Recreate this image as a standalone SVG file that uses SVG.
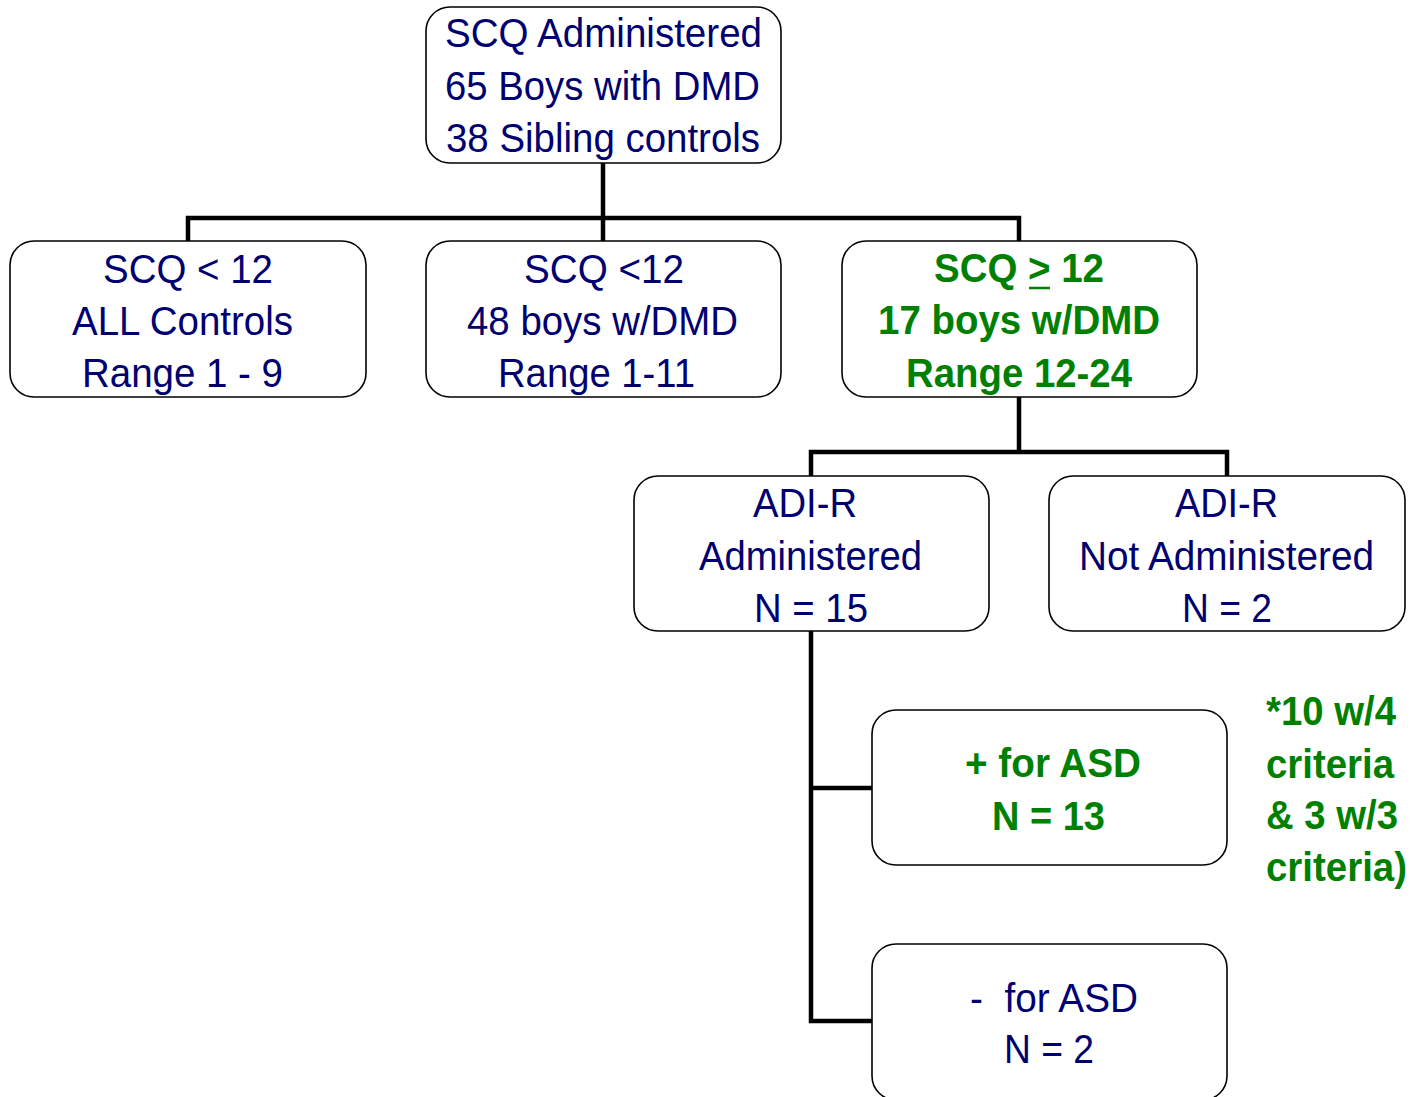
<svg xmlns="http://www.w3.org/2000/svg" width="1414" height="1097" viewBox="0 0 1414 1097">
<style>
.box{fill:#fff;stroke:#000;stroke-width:1.6}
.t{font-family:"Liberation Sans",Arial,sans-serif;font-size:40px;fill:#000070}
.g{font-family:"Liberation Sans",Arial,sans-serif;font-size:40px;font-weight:bold;fill:#008000}
.c{fill:none;stroke:#000;stroke-width:4.5}
</style>
<rect width="1414" height="1097" fill="#fff"/>
<g id="connectors">
<polyline class="c" points="603,163 603,241"/>
<polyline class="c" points="188,241 188,218 1019,218 1019,241"/>
<polyline class="c" points="1019,397 1019,452"/>
<polyline class="c" points="811,476 811,452 1227,452 1227,476"/>
<polyline class="c" points="811,631 811,1021 872,1021"/>
<polyline class="c" points="811,788 872,788"/>
</g>
<g id="n-top">
<rect class="box" x="426" y="7" width="355" height="156" rx="24"/>
<text class="t" x="445" y="47" textLength="317" lengthAdjust="spacingAndGlyphs">SCQ Administered</text>
<text class="t" x="445" y="100" textLength="315" lengthAdjust="spacingAndGlyphs">65 Boys with DMD</text>
<text class="t" x="446" y="152" textLength="314" lengthAdjust="spacingAndGlyphs">38 Sibling controls</text>
</g>
<g id="n-controls">
<rect class="box" x="10" y="241" width="356" height="156" rx="24"/>
<text class="t" x="103" y="283" textLength="170" lengthAdjust="spacingAndGlyphs">SCQ &lt; 12</text>
<text class="t" x="72" y="335" textLength="221" lengthAdjust="spacingAndGlyphs">ALL Controls</text>
<text class="t" x="82" y="387" textLength="201" lengthAdjust="spacingAndGlyphs">Range 1 - 9</text>
</g>
<g id="n-dmd-low">
<rect class="box" x="426" y="241" width="355" height="156" rx="24"/>
<text class="t" x="524" y="283" textLength="160" lengthAdjust="spacingAndGlyphs">SCQ &lt;12</text>
<text class="t" x="467" y="335" textLength="271" lengthAdjust="spacingAndGlyphs">48 boys w/DMD</text>
<text class="t" x="498" y="387" textLength="197" lengthAdjust="spacingAndGlyphs">Range 1-11</text>
</g>
<g id="n-dmd-high">
<rect class="box" x="842" y="241" width="355" height="156" rx="24"/>
<text class="g" x="934" y="282" textLength="170" lengthAdjust="spacingAndGlyphs">SCQ &gt; 12</text>
<line x1="1029" y1="288" x2="1050" y2="288" stroke="#008000" stroke-width="2.5"/>
<text class="g" x="878" y="334" textLength="282" lengthAdjust="spacingAndGlyphs">17 boys w/DMD</text>
<text class="g" x="906" y="387" textLength="226" lengthAdjust="spacingAndGlyphs">Range 12-24</text>
</g>
<g id="n-adir-yes">
<rect class="box" x="634" y="476" width="355" height="155" rx="24"/>
<text class="t" x="753" y="517" textLength="104" lengthAdjust="spacingAndGlyphs">ADI-R</text>
<text class="t" x="699" y="570" textLength="223" lengthAdjust="spacingAndGlyphs">Administered</text>
<text class="t" x="754" y="622" textLength="114" lengthAdjust="spacingAndGlyphs">N = 15</text>
</g>
<g id="n-adir-no">
<rect class="box" x="1049" y="476" width="356" height="155" rx="24"/>
<text class="t" x="1175" y="517" textLength="103" lengthAdjust="spacingAndGlyphs">ADI-R</text>
<text class="t" x="1079" y="570" textLength="295" lengthAdjust="spacingAndGlyphs">Not Administered</text>
<text class="t" x="1182" y="622" textLength="90" lengthAdjust="spacingAndGlyphs">N = 2</text>
</g>
<g id="n-asd-pos">
<rect class="box" x="872" y="710" width="355" height="155" rx="24"/>
<text class="g" x="965" y="777" textLength="176" lengthAdjust="spacingAndGlyphs">+ for ASD</text>
<text class="g" x="992" y="830" textLength="113" lengthAdjust="spacingAndGlyphs">N = 13</text>
</g>
<g id="n-asd-neg">
<rect class="box" x="872" y="944" width="355" height="156" rx="24"/>
<text class="t" x="970" y="1012" textLength="168" lengthAdjust="spacingAndGlyphs" xml:space="preserve">-  for ASD</text>
<text class="t" x="1004" y="1063" textLength="90" lengthAdjust="spacingAndGlyphs">N = 2</text>
</g>
<g id="note">
<text class="g" x="1266" y="725" textLength="130" lengthAdjust="spacingAndGlyphs">*10 w/4</text>
<text class="g" x="1266" y="778" textLength="128" lengthAdjust="spacingAndGlyphs">criteria</text>
<text class="g" x="1266" y="829" textLength="132" lengthAdjust="spacingAndGlyphs">&amp; 3 w/3</text>
<text class="g" x="1266" y="881" textLength="141" lengthAdjust="spacingAndGlyphs">criteria)</text>
</g>
</svg>
